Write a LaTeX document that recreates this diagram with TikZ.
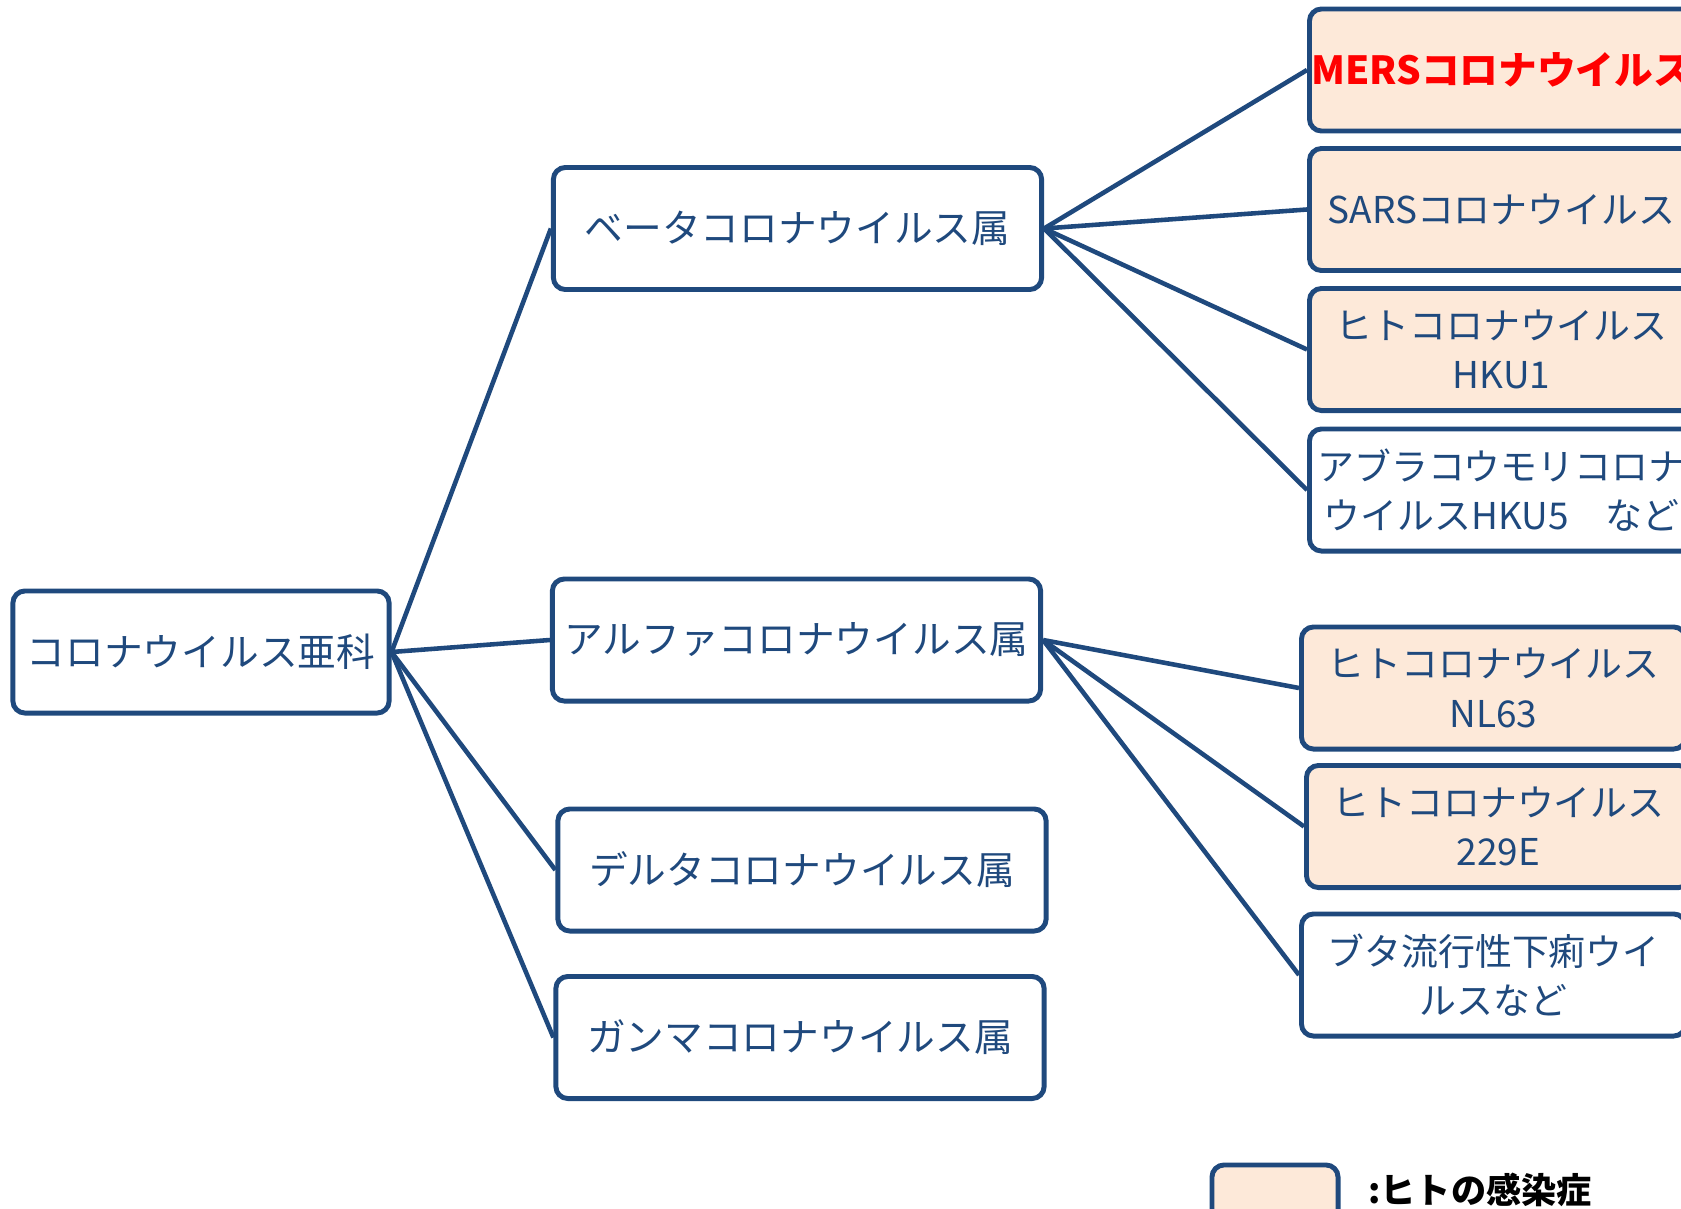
\documentclass[tikz,border=0pt]{standalone}
\usepackage{fontspec}
\setmainfont{Noto Sans CJK JP}
\usepackage{xcolor}
\usepackage{tikz}
\definecolor{navy}{HTML}{1F497D}
\definecolor{peach}{HTML}{FDE9D9}
\tikzset{
  taxon/.style = {align=center, inner sep=0pt, text centered, text=navy,
    draw=navy, line width=1.4pt, rounded corners=0.12cm,
    font=\fontsize{11}{13}\selectfont},
  sub_f/.style = {taxon, minimum width=3.76cm, minimum height=1.22cm},% subfamily
  genus_n/.style = {taxon, minimum width=4.88cm, minimum height=1.22cm},% genus
  virus_x/.style = {taxon, anchor=west, minimum width=3.84cm, minimum height=1.22cm,
    font=\fontsize{10.5}{14}\selectfont},% virus, other hosts
  virus_h/.style = {virus_x, fill=peach},% virus, human infection
  branch/.style = {draw=navy, line width=1.3pt}
}

\begin{document}
\begin{tikzpicture}[x=0.01cm, y=-0.01cm]
  \useasboundingbox (0,0) rectangle (1681,1209);
  \clip (0,0) rectangle (1681,1209);
  \node [sub_f] (sub) at (201,652) {コロナウイルス亜科};
  \node [genus_n] (beta) at (797.5,228.5) {ベータコロナウイルス属};
  \node [genus_n] (alpha) at (796.5,640) {アルファコロナウイルス属};
  \node [genus_n] (delta) at (802,870) {デルタコロナウイルス属};
  \node [genus_n] (gamma) at (800,1037.5) {ガンマコロナウイルス属};
  % beta
  \node [virus_h, text=red, font=\fontsize{11}{14}\selectfont\bfseries] (mers) at (1307,70) {MERSコロナウイルス};
  \node [virus_h] (sars) at (1307,209.5) {SARSコロナウイルス};
  \node [virus_h] (hku1) at (1307,349.5) {ヒトコロナウイルス\\HKU1};
  \node [virus_x] (hku5) at (1307,490) {アブラコウモリコロナ\\ウイルスHKU5　など};
  % alpha
  \node [virus_h] (nl63) at (1299,688) {ヒトコロナウイルス\\NL63};
  \node [virus_h] (e229) at (1304,826.5) {ヒトコロナウイルス\\229E};
  \node [virus_x] (ped) at (1299,975) {ブタ流行性下痢ウイ\\ルスなど};
  % legend
  \node [taxon, fill=peach, minimum width=1.26cm, minimum height=1cm] (key) at (1275,1215) {};
  \node [anchor=west, font=\fontsize{10}{12}\selectfont\bfseries] (keytext) at (1356,1190) {:ヒトの感染症};
  \foreach \g in {beta, alpha, delta, gamma}
    \draw [branch] (sub.east) -- (\g.west);
  \foreach \v in {mers, sars, hku1, hku5}
    \draw [branch] (beta.east) -- (\v.west);
  \foreach \v in {nl63, e229, ped}
    \draw [branch] (alpha.east) -- (\v.west);
\end{tikzpicture}
\end{document}
